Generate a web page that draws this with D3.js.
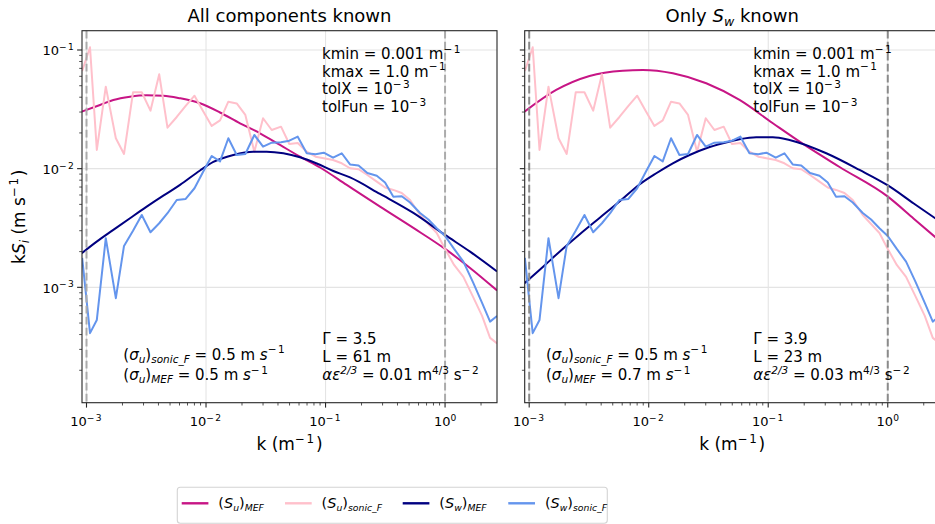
<!DOCTYPE html>
<html>
<head>
<meta charset="utf-8">
<script src="https://cdn.jsdelivr.net/npm/d3@7"></script>
<style>
  body { margin: 0; background: #fff; }
  svg { font-family: "DejaVu Sans", sans-serif; }
  text { white-space: pre; }
</style>
</head>
<body>
<svg id="chart" width="935" height="524"></svg>
<script>
/* Data */
// Binned sonic spectra (same measurement in both panels)
const kSonic = [0.00092, 0.00107, 0.00122, 0.00145, 0.00176, 0.00206, 0.00245, 0.00290, 0.00343, 0.00406,
    0.00476, 0.00569, 0.00676, 0.00801, 0.00944, 0.01116, 0.01310, 0.01537, 0.01807, 0.02133,
    0.02537, 0.0300, 0.03546, 0.04242, 0.04978, 0.05853, 0.06962, 0.08249, 0.09658, 0.1156,
    0.1366, 0.1603, 0.1889, 0.2238, 0.2683, 0.3147, 0.3693, 0.4342, 0.5095, 0.6177,
    0.7251, 0.8521, 1.000, 1.190, 1.423, 1.715, 2.040, 2.381, 2.723]
const suSonic = [0.0665, 0.1054, 0.01438, 0.0491, 0.01804, 0.01330, 0.0440, 0.0440, 0.03081, 0.0624,
    0.02215, 0.02726, 0.03375, 0.0412, 0.03063, 0.02290, 0.02548, 0.03668, 0.03543, 0.02834,
    0.01390, 0.02658, 0.02118, 0.02259, 0.01615, 0.01646, 0.01390, 0.01262, 0.01224, 0.01184,
    0.01110, 0.01008, 0.00988, 0.00885, 0.00777, 0.00694, 0.00662, 0.00624, 0.00545, 0.00407,
    0.00342, 0.00287, 0.002107, 0.001544, 0.001224, 0.000830, 0.000574, 0.000375, 0.000337]
const swSonic = [0.001769, 0.000411, 0.000531, 0.002593, 0.000810, 0.002233, 0.003004, 0.004074, 0.002912, 0.003467,
    0.004211, 0.005449, 0.005555, 0.006838, 0.00938, 0.01279, 0.01150, 0.01804, 0.01304, 0.01330,
    0.01923, 0.01532, 0.01656, 0.01669, 0.01721, 0.01861, 0.01348, 0.01322, 0.01364, 0.01238,
    0.01348, 0.01085, 0.01064, 0.00920, 0.00871, 0.00765, 0.00581, 0.00585, 0.00519, 0.00423,
    0.00373, 0.00315, 0.00271, 0.002107, 0.001646, 0.001102, 0.000739, 0.000514, 0.000574]

// MEF fit, all components known
const kFitAllU = [0.000912, 0.001297, 0.001676, 0.002312, 0.003190, 0.004391, 0.006060, 0.008910, 0.01310, 0.01925,
    0.02831, 0.04161, 0.06117, 0.08995, 0.1504, 0.2858, 0.5430, 1.000, 1.619, 2.723]
const suFitAll = [0.03021, 0.03441, 0.03791, 0.04042, 0.04154, 0.04121, 0.03918, 0.03556, 0.02974, 0.02412,
    0.01987, 0.01584, 0.01262, 0.01023, 0.007291, 0.004785, 0.003166, 0.002107, 0.001457, 0.000941]
const kFitAllW = [0.000912, 0.001217, 0.001676, 0.002312, 0.003190, 0.004391, 0.006060, 0.008910, 0.01151, 0.01692,
    0.02488, 0.03220, 0.04436, 0.06117, 0.08443, 0.1162, 0.1603, 0.2858, 0.5430, 1.000, 1.619, 2.723]
const swFitAll = [0.001937, 0.002427, 0.003045, 0.003822, 0.004785, 0.005923, 0.007291, 0.009656, 0.01139, 0.01304,
    0.01390, 0.01390, 0.01348, 0.01247, 0.01106, 0.009563, 0.008431, 0.006121, 0.004234, 0.002763, 0.001998, 0.001361]

// MEF fit, only S_w known
const kFitOnlyU = [0.000913, 0.001682, 0.003196, 0.006073, 0.008927, 0.01591, 0.03028, 0.05753, 0.1093, 0.2013,
    0.3951, 1.002, 1.65, 2.723]
const suFitOnly = [0.03021, 0.04603, 0.06039, 0.06692, 0.06785, 0.06362, 0.05240, 0.03791, 0.02413, 0.01584,
    0.01033, 0.005809, 0.00379, 0.00246]
const kFitOnlyW = [0.000913, 0.001343, 0.001863, 0.002636, 0.003875, 0.005696, 0.008375, 0.01156, 0.01591, 0.02195,
    0.03028, 0.04170, 0.05753, 0.07936, 0.1093, 0.1507, 0.3058, 0.5808, 1.002, 1.65, 2.723]
const swFitOnly = [0.001083, 0.001529, 0.002066, 0.002791, 0.003844, 0.005292, 0.007361, 0.009145, 0.01110, 0.01304,
    0.01485, 0.01637, 0.01769, 0.01839, 0.01839, 0.01745, 0.01348, 0.009750, 0.007220, 0.005090, 0.003591]

// Fit settings and results
const kWindow = [0.001, 1.0]
const tolExp = [-3, -3]
const gammaFit = [3.5, 3.9]
const lengthFit = [61, 23]
const alphaEps = [0.01, 0.03]
const sigmaSonic = [0.5, 0.5]
const sigmaMef = [0.5, 0.7]

// Axis ticks (decades)
const xTickExp = [-3, -2, -1, 0]
const yTickExp = [-3, -2, -1]


/* Setup */
const svg = d3.select("#chart")
const col = { suMef: "#c71585", suSonic: "#ffc0cb", swMef: "#000080", swSonic: "#6495ed" }
const plotTop = 30.7, plotBottom = 402.7, pw = 415
const xDomain = [9.17e-4, 2.72], yDomain = [1.066e-4, 0.1454]
const MINUS = "\u2212"

// Text with italic / sub / superscript runs, mathtext style
function rich(parent, x, y, parts, size, anchor, subScale) {
    const t = parent.append("text")
        .attr("x", x).attr("y", y)
        .attr("font-size", size)
        .attr("text-anchor", anchor || "start")
        .attr("fill", "#000")
    let shift = 0
    parts.forEach(p => {
        const s = p[0], f = p[1] || ""
        const target = f.includes("^") ? -0.42 * size : f.includes("_") ? 0.22 * size : 0
        const ts = t.append("tspan").text(s).attr("dy", target - shift)
        if (f.includes("^")) ts.attr("font-size", size * 0.7)
        if (f.includes("_")) ts.attr("font-size", size * (subScale || 0.7))
        if (f.includes("^") && s[0] === MINUS) ts.attr("letter-spacing", size * 0.1)
        if (f.includes("i")) ts.attr("font-style", "italic")
        shift = target
    })
    return t
}

const pow10 = e => [["10"], [e < 0 ? MINUS + (-e) : String(e), "^"]]

const panels = [
    {
        x0: 82, title: [["All components known"]],
        su: [kFitAllU, suFitAll], sw: [kFitAllW, swFitAll],
        dash: "#ababab", infoX: 322, sigX: 123.3, fitX: 322.3, yLabels: true
    },
    {
        x0: 524.7, title: [["Only "], ["S", "i"], ["w", "i_"], [" known"]],
        su: [kFitOnlyU, suFitOnly], sw: [kFitOnlyW, swFitOnly],
        dash: "#8a8a8a", infoX: 753.3, sigX: 546, fitX: 753.3, yLabels: false
    }
]

const isMajor = v => Math.abs(Math.log10(v) - Math.round(Math.log10(v))) < 1e-9


/* Drawing */
panels.forEach((p, pi) => {
    const x = d3.scaleLog().domain(xDomain).range([p.x0, p.x0 + pw])
    const y = d3.scaleLog().domain(yDomain).range([plotBottom, plotTop])
    const g = svg.append("g").attr("id", "panel" + pi)

    g.append("clipPath").attr("id", "clip" + pi)
        .append("rect")
        .attr("x", p.x0).attr("y", plotTop)
        .attr("width", pw).attr("height", plotBottom - plotTop)

    // Grid at decades
    const grid = g.append("g").attr("stroke", "#e4e4e4").attr("stroke-width", 1.1)
    grid.selectAll("line.gx")
        .data(xTickExp.map(e => Math.pow(10, e)))
        .join("line")
        .attr("x1", d => x(d)).attr("x2", d => x(d))
        .attr("y1", plotTop).attr("y2", plotBottom)
    grid.selectAll("line.gy")
        .data(yTickExp.map(e => Math.pow(10, e)))
        .join("line")
        .attr("x1", p.x0).attr("x2", p.x0 + pw)
        .attr("y1", d => y(d)).attr("y2", d => y(d))

    // Spectra
    const plot = g.append("g").attr("clip-path", "url(#clip" + pi + ")")
    const smooth = d3.line().x(d => x(d[0])).y(d => y(d[1])).curve(d3.curveMonotoneX)
    const jagged = d3.line().x(d => x(d[0])).y(d => y(d[1]))

    const series = [
        { pts: d3.zip(p.su[0], p.su[1]), gen: smooth, c: col.suMef },
        { pts: d3.zip(kSonic, suSonic), gen: jagged, c: col.suSonic },
        { pts: d3.zip(p.sw[0], p.sw[1]), gen: smooth, c: col.swMef },
        { pts: d3.zip(kSonic, swSonic), gen: jagged, c: col.swSonic }
    ]
    series.forEach(s => {
        plot.append("path")
            .attr("d", s.gen(s.pts))
            .attr("fill", "none")
            .attr("stroke", s.c)
            .attr("stroke-width", 2)
            .attr("stroke-linejoin", "round")
    })

    // Fitting window
    plot.selectAll("line.win")
        .data(kWindow)
        .join("line")
        .attr("x1", d => x(d)).attr("x2", d => x(d))
        .attr("y1", plotTop).attr("y2", plotBottom)
        .attr("stroke", p.dash)
        .attr("stroke-width", 2)
        .attr("stroke-dasharray", "7.7,3.3")

    // Frame
    g.append("rect")
        .attr("x", p.x0).attr("y", plotTop)
        .attr("width", pw).attr("height", plotBottom - plotTop)
        .attr("fill", "none").attr("stroke", "#262626").attr("stroke-width", 1.1)

    // Ticks
    g.selectAll("line.xt")
        .data(x.ticks())
        .join("line")
        .attr("x1", d => x(d)).attr("x2", d => x(d))
        .attr("y1", plotBottom).attr("y2", d => plotBottom + (isMajor(d) ? 4.9 : 2.8))
        .attr("stroke", "#262626").attr("stroke-width", d => isMajor(d) ? 1.1 : 0.8)
    g.selectAll("line.yt")
        .data(y.ticks())
        .join("line")
        .attr("y1", d => y(d)).attr("y2", d => y(d))
        .attr("x1", p.x0).attr("x2", d => p.x0 - (isMajor(d) ? 4.9 : 2.8))
        .attr("stroke", "#262626").attr("stroke-width", d => isMajor(d) ? 1.1 : 0.8)

    xTickExp.forEach(e => rich(g, x(Math.pow(10, e)), 426, pow10(e), 13, "middle"))
    if (p.yLabels) {
        yTickExp.forEach(e => rich(g, p.x0 - 7, y(Math.pow(10, e)) + 5.5, pow10(e), 13, "end"))
    }

    // Titles and labels
    rich(g, p.x0 + pw / 2, 22, p.title, 18, "middle")
    rich(g, p.x0 + pw / 2, 450, [["k (m"], [MINUS + "1", "^"], [")"]], 17, "middle")

    // Fit settings
    const info = [
        [["kmin = " + kWindow[0] + " m"], [MINUS + "1", "^"]],
        [["kmax = " + kWindow[1].toFixed(1) + " m"], [MINUS + "1", "^"]],
        [["tolX = 10"], [MINUS + (-tolExp[0]), "^"]],
        [["tolFun = 10"], [MINUS + (-tolExp[1]), "^"]]
    ]
    info.forEach((parts, i) => rich(g, p.infoX, 59 + i * 17.7, parts, 15))

    // Standard deviations
    rich(g, p.sigX, 359.5, [["("], ["σ", "i"], ["u", "i_"], [")"], ["sonic_F", "i_"],
        [" = " + sigmaSonic[pi].toFixed(1) + " m "], ["s", "i"], [MINUS + "1", "^"]], 15)
    rich(g, p.sigX, 380, [["("], ["σ", "i"], ["u", "i_"], [")"], ["MEF", "i_"],
        [" = " + sigmaMef[pi].toFixed(1) + " m "], ["s", "i"], [MINUS + "1", "^"]], 15)

    // Fitted parameters
    rich(g, p.fitX, 344, [["Γ = " + gammaFit[pi].toFixed(1)]], 15)
    rich(g, p.fitX, 362, [["L = " + lengthFit[pi] + " m"]], 15)
    rich(g, p.fitX, 380, [["αε", "i"], ["2/3", "i^"], [" = " + alphaEps[pi] + " m"], ["4/3", "^"],
        [" s"], [MINUS + "2", "^"]], 15)
})

// Y axis label
const yl = svg.append("g").attr("transform", "translate(25," + (plotTop + plotBottom) / 2 + ") rotate(-90)")
rich(yl, 0, 0, [["k"], ["S", "i"], ["i", "i_"], [" (m s"], [MINUS + "1", "^"], [")"]], 17, "middle")


/* Legend */
const legendItems = [
    { parts: [["("], ["S", "i"], ["u", "i_"], [")"], ["MEF", "i_"]], c: col.suMef },
    { parts: [["("], ["S", "i"], ["u", "i_"], [")"], ["sonic_F", "i_"]], c: col.suSonic },
    { parts: [["("], ["S", "i"], ["w", "i_"], [")"], ["MEF", "i_"]], c: col.swMef },
    { parts: [["("], ["S", "i"], ["w", "i_"], [")"], ["sonic_F", "i_"]], c: col.swSonic }
]
const legendX = [181.7, 285, 402.7, 508.3]
const lg = svg.append("g").attr("id", "legend")
lg.append("rect")
    .attr("x", 177.3).attr("y", 487.3).attr("width", 430).attr("height", 36).attr("rx", 3)
    .attr("fill", "#fff").attr("stroke", "#d4d4d4").attr("stroke-width", 1.1)

legendItems.forEach((it, i) => {
    const lx = legendX[i]
    lg.append("line")
        .attr("x1", lx).attr("x2", lx + 26.7)
        .attr("y1", 503.3).attr("y2", 503.3)
        .attr("stroke", it.c).attr("stroke-width", 2.4)
    rich(lg, lx + 36.6, 508, it.parts, 14.5, "start", 0.64)
})
</script>
</body>
</html>
